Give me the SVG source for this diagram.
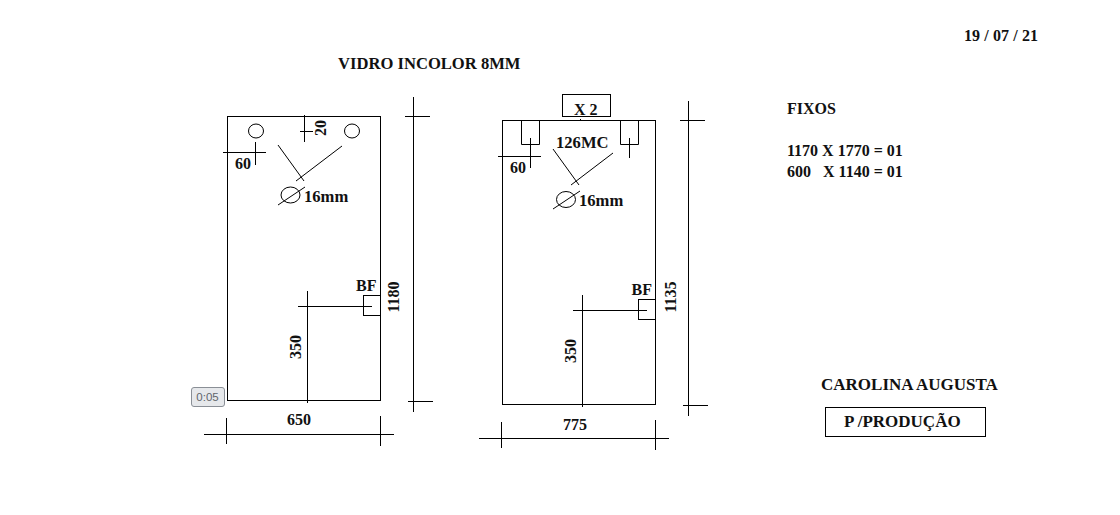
<svg xmlns="http://www.w3.org/2000/svg" width="1120" height="515" viewBox="0 0 1120 515">
<style>
text{font-family:"Liberation Serif","Times New Roman",serif;font-weight:700;font-size:16px;fill:#111}
.m{text-anchor:middle;dominant-baseline:central}
.w{font-size:16.600px}
.c{font-size:17px}
.s,line{fill:none;stroke:#000;stroke-width:1}
.badge{font-family:"Liberation Sans",Arial,sans-serif;font-weight:400;font-size:11.500px;fill:#5f656c}
</style>
<rect width="1120" height="515" fill="#fff"/>
<g id="header">
<text class="w" x="338" y="68.500">VIDRO INCOLOR 8MM</text>
<text x="964" y="41" textLength="74">19 / 07 / 21</text>
</g>
<g id="panel-left">
<rect class="s" x="227.500" y="116.500" width="153" height="284"/>
<ellipse class="s" cx="256" cy="131" rx="7.500" ry="7"/>
<ellipse class="s" cx="352" cy="131" rx="7.500" ry="7"/>
<rect class="s" x="363.500" y="295.500" width="17" height="20"/>
<ellipse class="s" cx="290.500" cy="195" rx="9.500" ry="8"/>
<text x="243" y="169" text-anchor="middle">60</text>
<text class="m" transform="translate(320.500 128) rotate(-90)">20</text>
<text class="w" x="304" y="202">16mm</text>
<text x="356" y="291">BF</text>
<text class="m" transform="translate(295 347) rotate(-90)">350</text>
<text class="m" transform="translate(393 297) rotate(-90)">1180</text>
<text x="299" y="425" text-anchor="middle">650</text>
</g>
<g id="panel-right">
<rect class="s" x="502.500" y="120.500" width="153" height="284"/>
<rect class="s" x="562.500" y="94.500" width="48" height="22"/>
<path class="s" d="M521.500 120.500V144.500H539.500V120.500M620.500 120.500V144.500H638.500V120.500"/>
<rect class="s" x="638.500" y="299.500" width="17" height="20"/>
<ellipse class="s" cx="566" cy="199.500" rx="9.500" ry="8"/>
<text x="574" y="115">X 2</text>
<text class="w" x="556" y="148">126MC</text>
<text x="518" y="173" text-anchor="middle">60</text>
<text class="w" x="579" y="206">16mm</text>
<text x="631.500" y="295">BF</text>
<text class="m" transform="translate(570.500 351) rotate(-90)">350</text>
<text class="m" transform="translate(670.500 297) rotate(-90)">1135</text>
<text x="575" y="430" text-anchor="middle">775</text>
</g>
<g id="notes">
<text x="787" y="114">FIXOS</text>
<text x="787" y="156">1170 X 1770 = 01</text>
<text x="787" y="177" xml:space="preserve">600   X 1140 = 01</text>
</g>
<g id="client">
<text class="c" x="821" y="390">CAROLINA AUGUSTA</text>
<rect class="s" x="825.500" y="407.500" width="160" height="29"/>
<text class="c" x="844" y="427">P /PRODUÇÃO</text>
</g>
<g id="timer">
<rect x="191.500" y="387.500" width="33" height="19" rx="2.500" fill="#e6e8eb" stroke="#8a8f96"/>
<text class="badge" x="207.500" y="401" text-anchor="middle">0:05</text>
</g>
<g id="connectors">
<line x1="304.500" y1="115" x2="304.500" y2="142"/><line x1="300" y1="131.500" x2="313" y2="131.500"/>
<line x1="223" y1="152.500" x2="266" y2="152.500"/><line x1="255.500" y1="142" x2="255.500" y2="165"/>
<line x1="278" y1="145" x2="304" y2="181"/><line x1="342" y1="146" x2="296" y2="181"/>
<line x1="278" y1="205" x2="305" y2="187"/>
<line x1="298" y1="306.500" x2="372" y2="306.500"/><line x1="307.500" y1="291" x2="307.500" y2="403"/>
<line x1="413.500" y1="97" x2="413.500" y2="412"/><line x1="405" y1="116.500" x2="430" y2="116.500"/><line x1="408" y1="401.500" x2="433" y2="401.500"/>
<line x1="204" y1="434.500" x2="394" y2="434.500"/><line x1="226.500" y1="418" x2="226.500" y2="444"/><line x1="380.500" y1="416" x2="380.500" y2="446"/>
<line x1="580.500" y1="119" x2="580.500" y2="121"/>
<line x1="530.500" y1="138" x2="530.500" y2="168"/><line x1="498" y1="156.500" x2="541" y2="156.500"/><line x1="629.500" y1="138" x2="629.500" y2="158"/>
<line x1="553" y1="149" x2="579" y2="185"/><line x1="613" y1="153" x2="571" y2="185"/>
<line x1="553" y1="209" x2="580" y2="191"/>
<line x1="573" y1="310.500" x2="647" y2="310.500"/><line x1="582.500" y1="295" x2="582.500" y2="407"/>
<line x1="688.500" y1="101" x2="688.500" y2="416"/><line x1="680" y1="120.500" x2="705" y2="120.500"/><line x1="683" y1="405.500" x2="708" y2="405.500"/>
<line x1="479" y1="438.500" x2="669" y2="438.500"/><line x1="501.500" y1="422" x2="501.500" y2="448"/><line x1="655.500" y1="420" x2="655.500" y2="450"/>
</g>
</svg>
